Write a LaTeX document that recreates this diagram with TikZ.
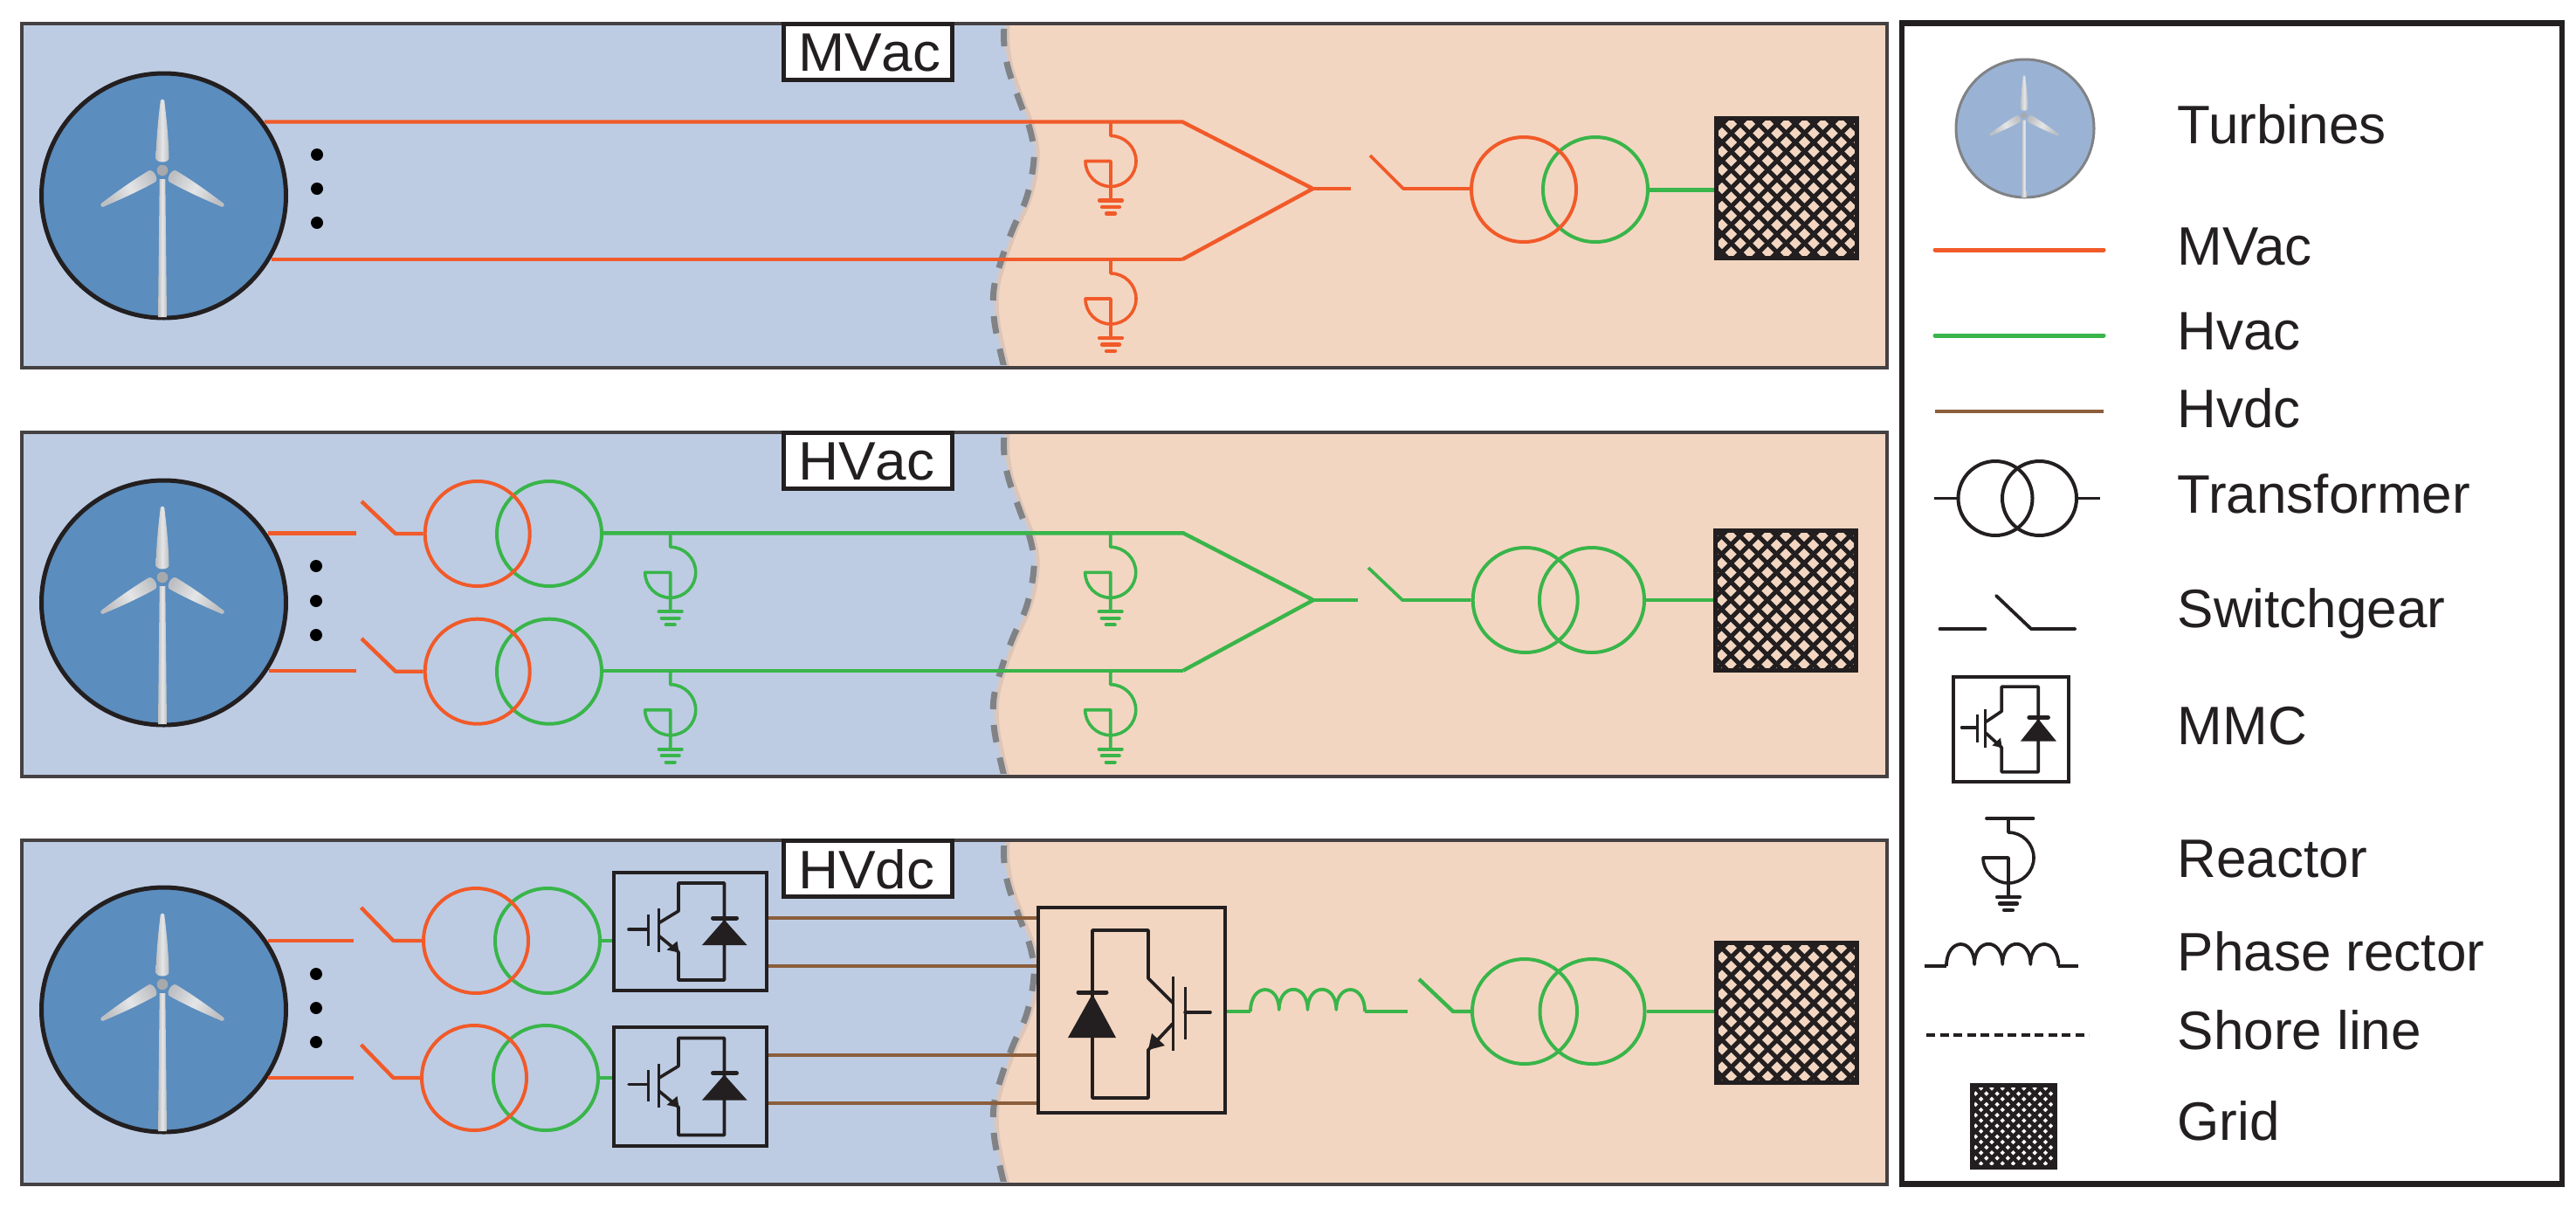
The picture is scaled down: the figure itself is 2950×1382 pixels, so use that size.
\documentclass[tikz,border=0pt]{standalone}
\usepackage{fontspec}
\setmainfont{Liberation Sans}
\newfontfamily\tagfont{Liberation Sans}[FakeStretch=1.03,Kerning=Off]
\definecolor{ink}{HTML}{231F20}
\definecolor{framec}{HTML}{454042}
\definecolor{sea}{HTML}{BDCCE3}
\definecolor{land}{HTML}{F3D6C1}
\definecolor{disc}{HTML}{5B8DBE}
\definecolor{discl}{HTML}{9AB3D5}
\definecolor{wmv}{HTML}{F15A29}
\definecolor{whv}{HTML}{39B54A}
\definecolor{wdc}{HTML}{8B5E3C}
\definecolor{shorec}{HTML}{808285}
\definecolor{halo}{HTML}{DCC6BA}
\definecolor{tE}{HTML}{BDBFC2}
\definecolor{tM}{HTML}{E4E5E7}
\definecolor{hubc}{HTML}{A7A9AC}
\newcommand\bladepath{(-7.5,-14) .. controls (-7,-40) and (-4,-65) .. (-2.2,-80) .. controls (-1.5,-82) and (1.5,-82) .. (2.2,-80) .. controls (4,-65) and (7,-40) .. (7.5,-14) .. controls (7.5,-8) and (-7.5,-8) .. (-7.5,-14) -- cycle}
\newcommand\shorepts{(1150,0) (1150,25) (1155,53) (1168,90) (1180,123) (1184,155) (1176,198) (1160,235) (1147,270) (1138,305) (1139,343) (1150,394)}
\newcommand\shoreband[1]{%
  \begin{scope}[shift={(0,#1)}]
    \fill[land,xshift=2pt] plot[smooth,tension=.6] coordinates {\shorepts} -- (2159,394) -- (2159,0) -- cycle;
    \draw[halo,line width=5pt,xshift=4pt] plot[smooth,tension=.6] coordinates {\shorepts};
    \begin{scope}
      \clip (1100,4) rectangle (1220,390);
      \draw[shorec,line width=7pt,dash pattern=on 20pt off 18pt,dash phase=-6pt] plot[smooth,tension=.6] coordinates {\shorepts};
    \end{scope}
  \end{scope}}
\tikzset{
  panel/.style={draw=framec,line width=4pt,minimum width=2136pt,minimum height=394pt,inner sep=0pt},
  seabg/.style={fill=sea,minimum width=2136pt,minimum height=394pt,inner sep=0pt},
  wtg/.style={circle,draw=ink,line width=5pt,fill=disc,minimum size=280pt,inner sep=0pt},
  xf/.style={circle,line width=4pt,minimum size=120pt,inner sep=0pt},
  wire/.style={line width=4.4pt,line join=round},
  wirethin/.style={line width=3.7pt,line join=round},
  dotm/.style={circle,fill=black,minimum size=14pt,inner sep=0pt},
  tag/.style={rectangle,draw=ink,fill=white,line width=5pt,inner sep=0pt,minimum width=193pt,
    text width=160pt,align=left,text height=45pt,text depth=0pt,minimum height=64pt,text=ink,font=\tagfont\fontsize{62}{62}\selectfont},
  legtext/.style={anchor=base west,inner sep=0pt,text=ink,font=\fontsize{62}{62}\selectfont},
  mmcbox/.style={rectangle,draw=ink,line width=4.2pt,inner sep=0pt},
  gridbox/.style n args={3}{rectangle,draw=ink,fill=#3,line width=5pt,inner sep=0pt,
    path picture={
      \begin{scope}[shift={(path picture bounding box.center)}]
      \foreach \k in {-14,...,14} {
        \draw[ink,line width=#2] (\k*#1-120,-120) -- (\k*#1+120,120);
        \draw[ink,line width=#2] (\k*#1-120,120) -- (\k*#1+120,-120);
      }
      \end{scope}}},
  blade/.style={left color=tE,right color=tE,middle color=tM},
  pics/turbine/.style={code={
    \path[blade] \bladepath;
    \path[blade,shading angle=120,rotate=120] \bladepath;
    \path[blade,shading angle=60,rotate=-120] \bladepath;
    \path[blade] (-3.3,10) -- (3.3,10) -- (5,168) -- (-5,168) -- cycle;
    \fill[hubc] (0,0) circle[radius=6.3];
  }},
  pics/reactor/.style={code={
    \draw[#1,line width=3.6pt,line join=round] (0,0) -- (0,16) arc[start angle=-90,end angle=180,radius=29] -- (0,45) -- (0,90);
    \draw[#1,line width=4.2pt,line cap=round] (-13,90) -- (13,90);
    \draw[#1,line width=4.2pt,line cap=round] (-10,97.5) -- (10,97.5);
    \draw[#1,line width=4.2pt,line cap=round] (-5,105) -- (5,105);
  }},
  pics/choke/.style={code={
    \coordinate (-in) at (0,0);
    \coordinate (-out) at (131,0);
    \draw[#1,line width=3.8pt,line join=round] (0,0)
      .. controls (0,-33) and (32.75,-33) .. (32.75,-2)
      .. controls (32.75,-33) and (65.5,-33) .. (65.5,-2)
      .. controls (65.5,-33) and (98.25,-33) .. (98.25,-2)
      .. controls (98.25,-33) and (131,-33) .. (131,0);
  }},
  pics/igbt/.style={code={
    \draw[ink,line width=3.6pt,line join=round] (-36.5,-9.5) -- (-13.5,-23.5) -- (-13.5,-55.5) -- (39,-55.5) -- (39,55.5) -- (-13.5,55.5) -- (-13.5,23.5) -- (-36.5,4.5);
    \draw[ink,line width=3pt] (-36.5,-26.5) -- (-36.5,23.5);
    \draw[ink,line width=3pt] (-48.5,-19.5) -- (-48.5,16.5);
    \draw[ink,line width=3.6pt,line cap=round] (-70.5,-2.5) -- (-48.5,-2.5);
    \fill[ink] (-13,24) -- (-15,11) -- (-27,21) -- cycle;
    \fill[ink] (39,-13.5) -- (65,15.5) -- (13.5,15.5) -- cycle;
    \draw[ink,line width=5pt,line cap=round] (26,-15.5) -- (53,-15.5);
  }},
  pics/igbtbig/.style={code={
    \draw[ink,line width=3.8pt,line join=round] (47,-8.5) -- (19,-36.5) -- (19,-91.5) -- (-45,-91.5) -- (-45,100.5) -- (19,100.5) -- (19,45.5) -- (47,15.5);
    \draw[ink,line width=3pt] (47,-38.5) -- (47,46.5);
    \draw[ink,line width=3pt] (61,-26.5) -- (61,33.5);
    \draw[ink,line width=3.6pt,line cap=round] (61,2.5) -- (90,2.5);
    \fill[ink] (19,45.5) -- (23,26.5) -- (38,40.5) -- cycle;
    \fill[ink] (-45,-18.5) -- (-18,31.5) -- (-73,31.5) -- cycle;
    \draw[ink,line width=5pt,line cap=round] (-61,-20.5) -- (-29,-20.5);
  }},
}
\begin{document}
\begin{tikzpicture}[x=1pt,y=-1pt]
\useasboundingbox (0,0) rectangle (2950,1382);
% ---------- backgrounds
\node[seabg] (bgA) at (1093,224) {};
\node[seabg] (bgB) at (1093,692) {};
\node[seabg] (bgC) at (1093,1159) {};
\shoreband{27}
\shoreband{495}
\shoreband{962}
\node[panel] (pA) at (1093,224) {};
\node[panel] (pB) at (1093,692) {};
\node[panel] (pC) at (1093,1159) {};
% ---------- tags
\node[tag] (tagA) at (994,59) {MVac};
\node[tag] (tagB) at (994,527) {HVac};
\node[tag] (tagC) at (994,994.5) {HVdc};
% ---------- turbines
\node[wtg] (wA) at (187.5,224) {};
\node[wtg] (wB) at (187.5,690) {};
\node[wtg] (wC) at (187.5,1156) {};
\pic at (186,195) {turbine};
\pic at (186,661) {turbine};
\pic at (186,1127) {turbine};
\node[dotm] (dA1) at (363,177) {};
\node[dotm] (dA2) at (363,216) {};
\node[dotm] (dA3) at (363,255) {};
\node[dotm] (dB1) at (362,648) {};
\node[dotm] (dB2) at (362,688) {};
\node[dotm] (dB3) at (362,727) {};
\node[dotm] (dC1) at (362,1115) {};
\node[dotm] (dC2) at (362,1154) {};
\node[dotm] (dC3) at (362,1193) {};
% ---------- panel A
\coordinate (aB1) at (1354,139.5);
\coordinate (aB2) at (1354,297);
\coordinate (aApex) at (1503.5,216);
\coordinate (aStub) at (1547,216);
\coordinate (aS1) at (1569,178);
\coordinate (aS2) at (1607,216);
\coordinate (aR1) at (1272,139.5);
\coordinate (aR2) at (1272,297);
\node[xf,draw=whv] (aT2) at (1827,217) {};
\node[xf,draw=wmv] (aT1) at (1745,217) {};
\node[gridbox={21}{5.2pt}{land},minimum width=161pt,minimum height=160pt] (gA) at (2045.5,215.5) {};
\pic at (aR1) {reactor=wmv};
\pic at (aR2) {reactor=wmv};
\draw[wmv,wire] (wA.36 |- aB1) -- (aB1) -- (aApex);
\draw[wmv,wirethin] (wA.-30.5 |- aB2) -- (aB2);
\draw[wmv,wire] (aB2) -- (aApex);
\draw[wmv,wirethin] (aApex) -- (aStub);
\draw[wmv,wirethin] (aS1) -- (aS2) -- (aS2 -| aT1.west);
\draw[whv,line width=5pt] (aT2.east) -- (aT2.east -| gA.west);
% ---------- panel B
\coordinate (bS11) at (305,610.3);
\coordinate (bS12) at (407.7,610.3);
\coordinate (bS21) at (305,767.7);
\coordinate (bS22) at (407.7,767.7);
\coordinate (bK11) at (414,574);
\coordinate (bK12) at (453,611);
\coordinate (bK21) at (414,731);
\coordinate (bK22) at (453,768.7);
\coordinate (bB1) at (1355,610.3);
\coordinate (bB2) at (1355,767.7);
\coordinate (bApex) at (1504,687);
\coordinate (bStub) at (1555,687);
\coordinate (bS1) at (1567,650);
\coordinate (bS2) at (1606,687);
\node[xf,draw=whv] (bT12) at (629,611) {};
\node[xf,draw=wmv] (bT11) at (546.7,611) {};
\node[xf,draw=whv] (bT22) at (629,768.7) {};
\node[xf,draw=wmv] (bT21) at (546.7,768.7) {};
\node[xf,draw=whv] (bT4) at (1823,687) {};
\node[xf,draw=whv] (bT3) at (1746.7,687) {};
\node[gridbox={21}{5.2pt}{land},minimum width=161pt,minimum height=160pt] (gB) at (2045,687) {};
\coordinate (bR1) at (767.7,610.3);
\coordinate (bR2) at (767.7,767.7);
\coordinate (bR3) at (1271.7,610.3);
\coordinate (bR4) at (1271.7,767.7);
\pic at (bR1) {reactor=whv};
\pic at (bR2) {reactor=whv};
\pic at (bR3) {reactor=whv};
\pic at (bR4) {reactor=whv};
\draw[wmv,wire] (wB.33.6 |- bS11) -- (bS12);
\draw[wmv,wirethin] (wB.-32.7 |- bS21) -- (bS22);
\draw[wmv,wire] (bK11) -- (bK12) -- (bT11.west);
\draw[wmv,wire] (bK21) -- (bK22) -- (bT21.west);
\draw[whv,wire] (bT12.east |- bB1) -- (bB1) -- (bApex);
\draw[whv,wirethin] (bT22.east |- bB2) -- (bB2);
\draw[whv,wire] (bB2) -- (bApex);
\draw[whv,wirethin] (bApex) -- (bStub);
\draw[whv,wirethin] (bS1) -- (bS2) -- (bT3.west);
\draw[whv,wirethin] (bT4.east) -- (gB.west);
% ---------- panel C
\coordinate (cS11) at (405,1077);
\coordinate (cS21) at (405,1234);
\coordinate (cK11) at (413.5,1039);
\coordinate (cK12) at (450.5,1077);
\coordinate (cK21) at (413.5,1196);
\coordinate (cK22) at (450.5,1234);
\node[xf,draw=whv] (cT12) at (627,1077) {};
\node[xf,draw=wmv] (cT11) at (545,1077) {};
\node[xf,draw=whv] (cT22) at (625,1234) {};
\node[xf,draw=wmv] (cT21) at (543,1234) {};
\node[mmcbox,minimum width=175pt,minimum height=135pt] (m1) at (790.5,1066.5) {};
\node[mmcbox,minimum width=175pt,minimum height=136pt] (m2) at (790.5,1244) {};
\node[mmcbox,minimum width=213.5pt,minimum height=235pt] (mB) at (1296,1156.5) {};
\pic at (m1) {igbt};
\pic at (m2) {igbt};
\pic at (mB) {igbtbig};
\draw[wmv,wire] (wC.33 |- cS11) -- (cS11);
\draw[wmv,wire] (wC.-33 |- cS21) -- (cS21);
\draw[wmv,wire] (cK11) -- (cK12) -- (cT11.west);
\draw[wmv,wire] (cK21) -- (cK22) -- (cT21.west);
\draw[whv,wire] (cT12.east) -- (cT12.east -| m1.west);
\draw[whv,wire] (cT22.east) -- (cT22.east -| m2.west);
\draw[wdc,line width=4.6pt] ([yshift=15.5pt]m1.east) -- ([yshift=15.5pt]m1.east -| mB.west);
\draw[wdc,line width=4.6pt] ([yshift=-39.5pt]m1.east) -- ([yshift=-39.5pt]m1.east -| mB.west);
\draw[wdc,line width=3.6pt] ([yshift=36pt]m2.east) -- ([yshift=36pt]m2.east -| mB.west);
\draw[wdc,line width=3.6pt] ([yshift=-19pt]m2.east) -- ([yshift=-19pt]m2.east -| mB.west);
\pic (cL) at (1432,1158) {choke=whv};
\coordinate (cLs) at (1612,1158);
\coordinate (cSa) at (1625,1121);
\coordinate (cSb) at (1664,1158);
\node[xf,draw=whv] (cT4) at (1823.5,1158) {};
\node[xf,draw=whv] (cT3) at (1746,1158) {};
\node[gridbox={21}{5.2pt}{land},minimum width=161pt,minimum height=160pt] (gC) at (2045.5,1159) {};
\draw[whv,wire] (mB.east |- cL-in) -- (cL-in);
\draw[whv,wire] (cL-out) -- (cLs);
\draw[whv,wire] (cSa) -- (cSb) -- (cT3.west);
\draw[whv,wire] (cT4.east) -- (cT4.east -| gC.west);
% ---------- legend
\node[rectangle,draw=ink,line width=6.5pt,minimum width=756pt,minimum height=1329pt,inner sep=0pt] (leg) at (2556,691) {};
\node[circle,draw=shorec,fill=discl,line width=3pt,minimum size=158pt,inner sep=0pt] (lW) at (2319,147) {};
\pic[scale=.56] at (2318,132) {turbine};
\coordinate (lM1) at (2216,286); \coordinate (lM2) at (2409,286);
\coordinate (lH1) at (2216,384); \coordinate (lH2) at (2409,384);
\coordinate (lD1) at (2216,471); \coordinate (lD2) at (2409,471);
\draw[wmv,line width=5pt,line cap=round] (lM1) -- (lM2);
\draw[whv,line width=5pt,line cap=round] (lH1) -- (lH2);
\draw[wdc,line width=4.4pt] (lD1) -- (lD2);
\node[xf,draw=ink,minimum size=85pt] (lT1) at (2285,570.5) {};
\node[xf,draw=ink,minimum size=85pt] (lT2) at (2335.5,570.5) {};
\coordinate (lTa) at (2215,570.5); \coordinate (lTb) at (2405,570.5);
\draw[ink,line width=3.8pt] (lTa) -- (lT1.west);
\draw[ink,line width=3.8pt] (lT2.east) -- (lTb);
\coordinate (lS1) at (2221.5,720); \coordinate (lS2) at (2273.5,720);
\coordinate (lS3) at (2286,682); \coordinate (lS4) at (2326,720); \coordinate (lS5) at (2376.5,720);
\draw[ink,line width=3.8pt,line cap=round] (lS1) -- (lS2);
\draw[ink,line width=3.8pt,line cap=round,line join=round] (lS3) -- (lS4) -- (lS5);
\node[mmcbox,minimum width=131.5pt,minimum height=120.5pt,line width=3.8pt] (lMM) at (2303,835) {};
\pic[xscale=.8,yscale=.88] at (lMM) {igbt};
\coordinate (lRa) at (2275,937); \coordinate (lRb) at (2328.5,937); \coordinate (lRc) at (2300,937);
\draw[ink,line width=3.8pt,line cap=round] (lRa) -- (lRb);
\pic at (lRc) {reactor=ink};
\coordinate (lPa) at (2204,1106); \coordinate (lPb) at (2380,1106);
\pic[xscale=.98] (lP) at (2229,1106) {choke=ink};
\draw[ink,line width=3.8pt] (lPa) -- (lP-in);
\draw[ink,line width=3.8pt] (lP-out) -- (lPb);
\coordinate (lSh1) at (2206,1185); \coordinate (lSh2) at (2392,1185);
\draw[ink,line width=4pt,dash pattern=on 10pt off 5.5pt] (lSh1) -- (lSh2);
\node[gridbox={12.3}{4.6pt}{white},minimum width=95pt,minimum height=94pt] (lG) at (2305.5,1289) {};
% ---------- legend texts
\node[legtext] (t1) at (2493.5,164) {Turbines};
\node[legtext] (t2) at (2493.5,303.5) {MVac};
\node[legtext] (t3) at (2493.5,400.5) {Hvac};
\node[legtext] (t4) at (2493.5,489) {Hvdc};
\node[legtext] (t5) at (2493.5,587) {Transformer};
\node[legtext] (t6) at (2493.5,718) {Switchgear};
\node[legtext] (t7) at (2493.5,852) {MMC};
\node[legtext] (t8) at (2493.5,1004.5) {Reactor};
\node[legtext] (t9) at (2493.5,1111) {Phase rector};
\node[legtext] (t10) at (2493.5,1201) {Shore line};
\node[legtext] (t11) at (2493.5,1305) {Grid};
\end{tikzpicture}
\end{document}
